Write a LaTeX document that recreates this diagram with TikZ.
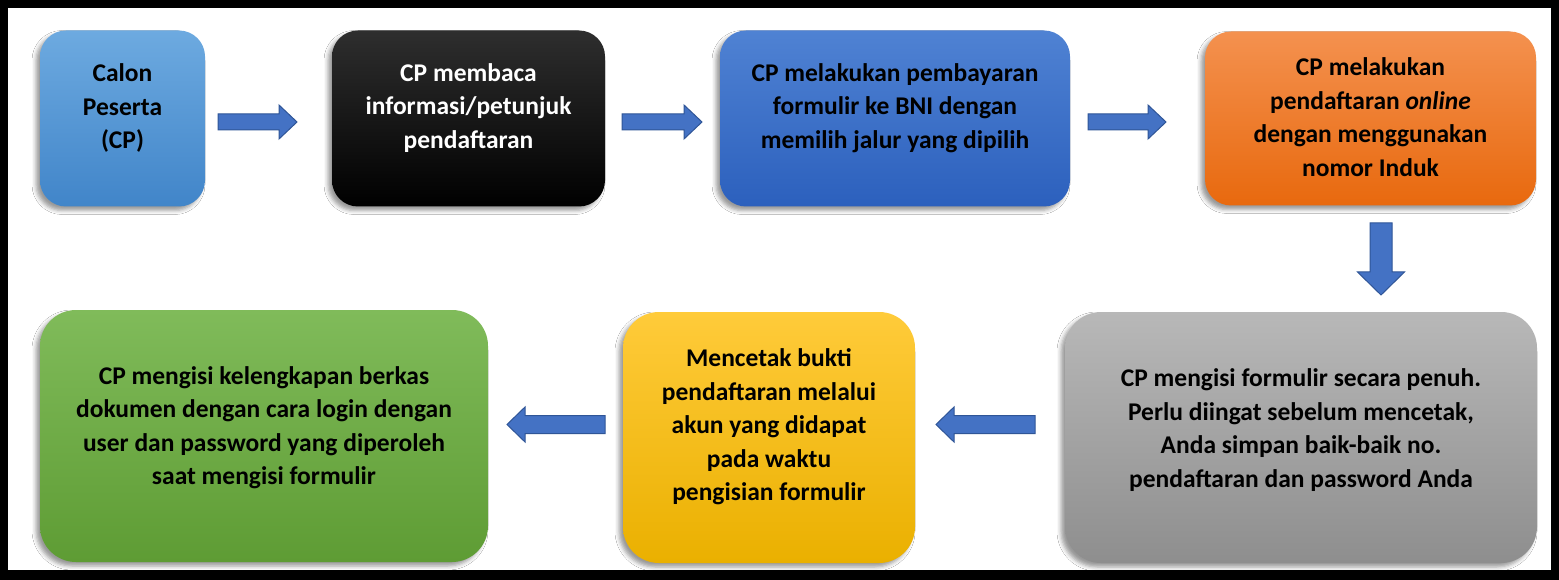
\documentclass[tikz,border=0pt]{standalone}
\usepackage{fontspec}
\setmainfont{Carlito}
\usetikzlibrary{shadows.blur}
\definecolor{arrblue}{HTML}{4472C4}
\definecolor{arrborder}{HTML}{2F5597}
\definecolor{b1top}{HTML}{6DAAE0}
\definecolor{b1bot}{HTML}{4185C9}
\definecolor{b2top}{HTML}{2E2E2E}
\definecolor{b2bot}{HTML}{000000}
\definecolor{b3top}{HTML}{4F82D3}
\definecolor{b3bot}{HTML}{2C60BD}
\definecolor{b4top}{HTML}{F4914F}
\definecolor{b4bot}{HTML}{E8690E}
\definecolor{b5top}{HTML}{B8B8B8}
\definecolor{b5bot}{HTML}{8E8E8E}
\definecolor{b6top}{HTML}{FFCB3A}
\definecolor{b6bot}{HTML}{EAB000}
\definecolor{b7top}{HTML}{80BB5A}
\definecolor{b7bot}{HTML}{5E9C34}
\begin{document}
\begin{tikzpicture}[x=1pt,y=-1pt,
  box/.style={rounded corners=26pt, inner sep=0pt,
    blur shadow={shadow xshift=-4pt, shadow yshift=-4pt, shadow blur radius=4pt, shadow opacity=40}},
  txt/.style={font=\bfseries\fontsize{25.5}{33.5}\selectfont, align=center, inner sep=0pt},
  arr/.style={fill=arrblue, draw=arrborder, line width=1pt, line join=miter},
  pics/barrow/.style n args={4}{code={
    \path[arr] (0,-#2/2) -- ({#1-#4},-#2/2) -- ({#1-#4},-#3/2) -- (#1,0)
      -- ({#1-#4},#3/2) -- ({#1-#4},#2/2) -- (0,#2/2) -- cycle;}}
]
\useasboundingbox (0,0) rectangle (1559,580);
\fill[black] (0,0) rectangle (1559,580);
\fill[white] (8,8) rectangle (1551,570);

% top row
\node[box, top color=b1top, bottom color=b1bot, minimum width=165pt, minimum height=176pt] (b1) at (122.5,118.5) {};
\node[box, top color=b2top, bottom color=b2bot, minimum width=273pt, minimum height=176pt] (b2) at (468.5,118.5) {};
\node[box, top color=b3top, bottom color=b3bot, minimum width=350pt, minimum height=176pt] (b3) at (895,118.5) {};
\node[box, top color=b4top, bottom color=b4bot, minimum width=331pt, minimum height=174pt] (b4) at (1370.5,118.5) {};
% bottom row
\node[box, rounded corners=36pt, top color=b5top, bottom color=b5bot, minimum width=472pt, minimum height=251pt] (b5) at (1301,437.5) {};
\node[box, rounded corners=36pt, top color=b6top, bottom color=b6bot, minimum width=292pt, minimum height=251pt] (b6) at (769,437.5) {};
\node[box, rounded corners=36pt, top color=b7top, bottom color=b7bot, minimum width=448pt, minimum height=252pt] (b7) at (264,436) {};

% texts
\node[txt] (t1) at (122.5,108) {Calon\\Peserta\\(CP)};
\node[txt, text=white] (t2) at (468.5,108) {CP membaca\\informasi/petunjuk\\pendaftaran};
\node[txt] (t3) at (895,108) {CP melakukan pembayaran\\formulir ke BNI dengan\\memilih jalur yang dipilih};
\node[txt] (t4) at (1370.5,117) {CP melakukan\\pendaftaran \textit{online}\\dengan menggunakan\\nomor Induk};
\node[txt] (t5) at (1301,430) {CP mengisi formulir secara penuh.\\Perlu diingat sebelum mencetak,\\Anda simpan baik-baik no.\\pendaftaran dan password Anda};
\node[txt] (t6) at (769,427) {Mencetak bukti\\pendaftaran melalui\\akun yang didapat\\pada waktu\\pengisian formulir};
\node[txt] (t7) at (264,427.5) {CP mengisi kelengkapan berkas\\dokumen dengan cara login dengan\\user dan password yang diperoleh\\saat mengisi formulir};

% arrows
\pic at (218,122) {barrow={79}{16}{34}{18}};
\pic at (622,122) {barrow={80}{16}{34}{18}};
\pic at (1088,122) {barrow={78}{16}{34}{18}};
\pic[rotate=-90] at (1381,223) {barrow={72}{22}{47}{23}};
\pic[rotate=180] at (1035,424.5) {barrow={99}{18}{35}{18}};
\pic[rotate=180] at (605,424.5) {barrow={98}{18}{35}{18}};
\end{tikzpicture}
\end{document}
